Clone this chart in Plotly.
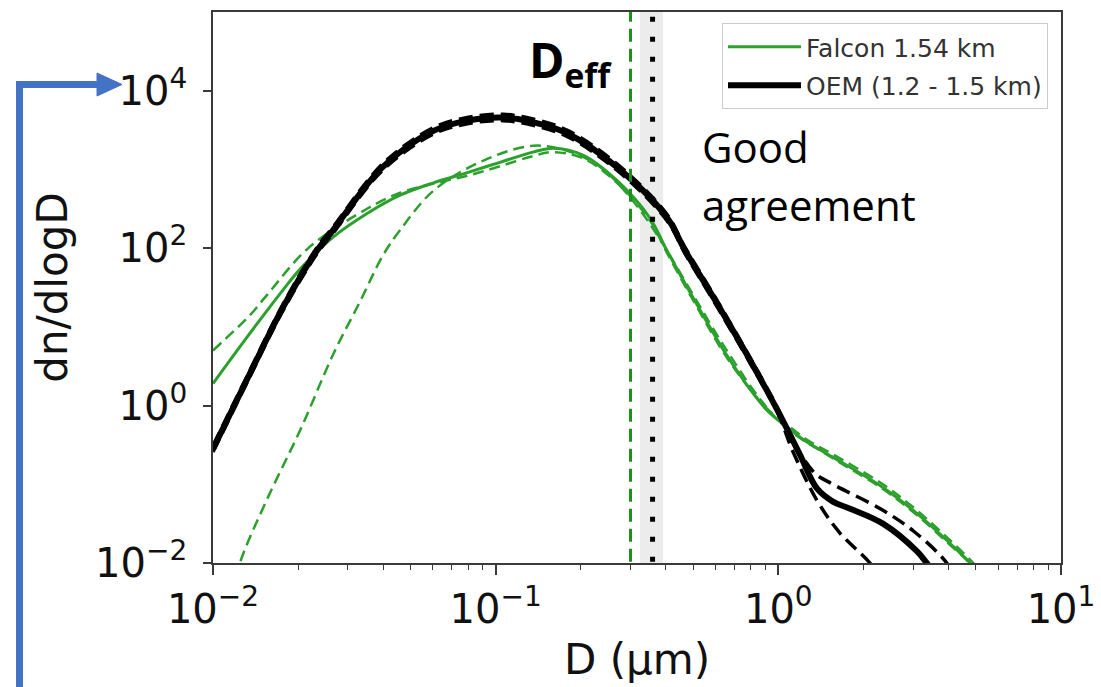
import plotly.graph_objects as go

# ---------------- data (log10 values) ----------------
# OEM retrieval (1.2 - 1.5 km), main curve
oem_logD = [-2.0, -1.869, -1.752, -1.632, -1.575, -1.40, -1.22, -1.10, -0.974, -0.868,
            -0.748, -0.571, -0.394, -0.33, -0.224, -0.10, 0.0, 0.076, 0.136, 0.193,
            0.254, 0.37, 0.49, 0.525, 0.60]
oem_logN = [-0.55, 0.41, 1.25, 1.97, 2.23, 3.03, 3.49, 3.62, 3.66, 3.60,
            3.46, 3.03, 2.39, 1.97, 1.34, 0.576, -0.08, -0.62, -1.05, -1.22,
            -1.31, -1.50, -1.85, -2.0, -2.35]
# OEM upper / lower bounds (dashed)
oem_up_logD = [-2.0, -1.869, -1.752, -1.632, -1.575, -1.40, -1.22, -1.10, -0.974, -0.868,
               -0.748, -0.571, -0.394, -0.33, -0.224, -0.10, 0.0, 0.05, 0.10, 0.136,
               0.193, 0.37, 0.48, 0.596, 0.65]
oem_up_logN = [-0.51, 0.45, 1.29, 2.01, 2.27, 3.07, 3.53, 3.66, 3.70, 3.64,
               3.50, 3.07, 2.43, 2.01, 1.38, 0.61, -0.05, -0.45, -0.73, -0.88,
               -1.0, -1.33, -1.60, -2.0, -2.35]
oem_lo_logD = [-2.0, -1.869, -1.752, -1.632, -1.575, -1.40, -1.22, -1.10, -0.974, -0.868,
               -0.748, -0.571, -0.394, -0.33, -0.224, -0.10, 0.0, 0.05, 0.136, 0.218,
               0.324, 0.40]
oem_lo_logN = [-0.59, 0.37, 1.21, 1.93, 2.19, 2.99, 3.45, 3.58, 3.62, 3.56,
               3.42, 2.99, 2.35, 1.93, 1.30, 0.54, -0.11, -0.57, -1.2, -1.62,
               -2.0, -2.4]

# Falcon 1.54 km, measured
fal_logD = [-2.0, -1.869, -1.75, -1.69, -1.575, -1.455, -1.34, -1.22, -1.10, -0.985,
            -0.868, -0.797, -0.69, -0.571, -0.454, -0.394, -0.30, -0.171, -0.04, 0.03,
            0.10, 0.193, 0.37, 0.49, 0.607, 0.678, 0.72]
fal_logN = [0.28, 0.92, 1.48, 1.74, 2.14, 2.44, 2.67, 2.83, 2.96, 3.09,
            3.22, 3.27, 3.18, 2.86, 2.38, 1.97, 1.36, 0.576, -0.06, -0.27,
            -0.46, -0.655, -1.04, -1.37, -1.75, -2.0, -2.2]
# Falcon dashed (narrow)
fal_a_logD = [-1.95, -1.905, -1.81, -1.69, -1.575, -1.48, -1.40, -1.34, -1.22, -1.045,
              -0.868, -0.75, -0.63, -0.514, -0.42, -0.33, -0.20, -0.06, 0.03, 0.193,
              0.37, 0.49, 0.607, 0.675, 0.72]
fal_a_logN = [-2.6, -2.0, -1.20, -0.30, 0.65, 1.32, 1.90, 2.22, 2.73, 3.11,
              3.30, 3.24, 3.03, 2.60, 2.12, 1.58, 0.80, 0.06, -0.29, -0.67,
              -1.06, -1.39, -1.77, -2.0, -2.3]
# Falcon dashed (wide)
fal_b_logD = [-2.0, -1.869, -1.81, -1.66, -1.455, -1.34, -1.22, -1.10, -0.985, -0.868,
              -0.797, -0.69, -0.571, -0.454, -0.394, -0.30, -0.171, -0.04, 0.03, 0.10,
              0.193, 0.37, 0.49, 0.607, 0.69, 0.74]
fal_b_logN = [0.70, 1.15, 1.40, 2.01, 2.50, 2.70, 2.82, 2.92, 3.04, 3.17,
              3.22, 3.14, 2.83, 2.35, 1.94, 1.33, 0.55, -0.04, -0.24, -0.43,
              -0.62, -1.00, -1.33, -1.71, -2.0, -2.2]

# effective diameters (µm)
deff_falcon = 0.30
deff_oem = 0.359
deff_oem_lo = 0.324
deff_oem_hi = 0.391

x_tickvals = [0.01, 0.1, 1, 10]
x_ticktext = ["10<sup>−2</sup>", "10<sup>−1</sup>", "10<sup>0</sup>", "10<sup>1</sup>"]
y_tickvals = [0.01, 1, 100, 10000]
y_ticktext = ["10<sup>−2</sup>", "10<sup>0</sup>", "10<sup>2</sup>", "10<sup>4</sup>"]
x_minor = [m * 10.0 ** e for e in (-2, -1, 0) for m in range(2, 10)]

GREEN = "#2ca02c"
VGREEN = "#1d8f1d"
BLACK = "#000000"


def pw(vals):
    return [10.0 ** v for v in vals]


fig = go.Figure()

# shaded OEM Deff range
fig.add_trace(go.Scatter(
    x=[deff_oem_lo, deff_oem_hi, deff_oem_hi, deff_oem_lo, deff_oem_lo],
    y=[1e-3, 1e-3, 1e6, 1e6, 1e-3], fill="toself",
    fillcolor="rgba(185,185,185,0.28)", line=dict(width=0), mode="lines",
    showlegend=False, hoverinfo="skip"))

# Falcon dashed curves
fig.add_trace(go.Scatter(x=pw(fal_a_logD), y=pw(fal_a_logN), mode="lines",
                         line=dict(color=GREEN, width=2.5, dash="11px,6px", shape="spline"),
                         showlegend=False))
fig.add_trace(go.Scatter(x=pw(fal_b_logD), y=pw(fal_b_logN), mode="lines",
                         line=dict(color=GREEN, width=2.5, dash="11px,6px", shape="spline"),
                         showlegend=False))
# Falcon solid
fig.add_trace(go.Scatter(x=pw(fal_logD), y=pw(fal_logN), mode="lines",
                         name="Falcon 1.54 km", legendgroup="g1",
                         line=dict(color=GREEN, width=3, shape="spline")))
# OEM bounds
fig.add_trace(go.Scatter(x=pw(oem_up_logD), y=pw(oem_up_logN), mode="lines",
                         line=dict(color=BLACK, width=3.5, dash="14px,7px", shape="spline"),
                         showlegend=False))
fig.add_trace(go.Scatter(x=pw(oem_lo_logD), y=pw(oem_lo_logN), mode="lines",
                         line=dict(color=BLACK, width=3.5, dash="14px,7px", shape="spline"),
                         showlegend=False))
# OEM main
fig.add_trace(go.Scatter(x=pw(oem_logD), y=pw(oem_logN), mode="lines",
                         name="OEM (1.2 - 1.5 km)", legendgroup="g2",
                         line=dict(color=BLACK, width=6, shape="spline")))

# Deff vertical lines
fig.add_trace(go.Scatter(x=[deff_falcon, deff_falcon], y=[1e-3, 1e6], mode="lines",
                         line=dict(color=VGREEN, width=3, dash="13px,7px"),
                         showlegend=False, hoverinfo="skip"))
fig.add_trace(go.Scatter(x=[deff_oem, deff_oem], y=[1e-3, 1e6], mode="lines",
                         line=dict(color=BLACK, width=5, dash="5px,15px"),
                         showlegend=False, hoverinfo="skip"))

# ---------------- layout ----------------
L, R, T, B = 213, 40, 12, 124
W, H = 1101, 687
PW, PH = W - L - R, H - T - B


def px(x):
    return (x - L) / PW


def py(y):
    return (H - B - y) / PH


AX = "#3a3a3a"
fig.update_layout(
    template="none",
    width=W, height=H,
    margin=dict(l=L, r=R, t=T, b=B, pad=0, autoexpand=False),
    paper_bgcolor="white", plot_bgcolor="white",
    font=dict(family="DejaVu Sans", color="#111"),
    xaxis=dict(
        type="log", range=[-2, 1], tickmode="array", automargin=False,
        tickvals=x_tickvals, ticktext=x_ticktext,
        ticks="outside", ticklen=10, tickwidth=1.5, tickcolor=AX,
        showline=True, linecolor=AX, linewidth=1.5, mirror=True,
        showgrid=False, zeroline=False,
        tickfont=dict(family="DejaVu Sans", size=40, color="#111"),
        minor=dict(tickmode="array", tickvals=x_minor, ticks="outside",
                   ticklen=5, tickwidth=1, tickcolor=AX, showgrid=False),
        title=dict(text="D (μm)", font=dict(family="DejaVu Sans", size=42, color="#111"),
                   standoff=14),
    ),
    yaxis=dict(
        type="log", range=[-2, 5], tickmode="array", automargin=False,
        tickvals=y_tickvals, ticktext=y_ticktext,
        ticks="outside", ticklen=8, tickwidth=1.5, tickcolor=AX,
        showline=True, linecolor=AX, linewidth=1.5, mirror=True,
        showgrid=False, zeroline=False, ticklabelstandoff=8,
        tickfont=dict(family="DejaVu Sans", size=40, color="#111"),
        title=dict(text="dn/dlogD", font=dict(family="DejaVu Sans", size=42, color="#111"),
                   standoff=14),
    ),
    legend=dict(
        x=px(1048), xanchor="right", y=py(23), yanchor="top",
        bgcolor="rgba(255,255,255,0.85)", bordercolor="#cccccc", borderwidth=1,
        font=dict(family="DejaVu Sans", size=25, color="#333"),
        tracegroupgap=3, itemwidth=73,
    ),
    showlegend=True,
)

# annotations
fig.add_annotation(xref="paper", yref="paper", x=px(527), y=py(62),
                   xanchor="left", yanchor="middle", showarrow=False,
                   text="<b>D<sub>eff</sub></b>",
                   font=dict(family="Open Sans", size=48, color="black"))
fig.add_annotation(xref="paper", yref="paper", x=px(700), y=py(146),
                   xanchor="left", yanchor="middle", showarrow=False,
                   text="Good", font=dict(family="Open Sans", size=42, color="black"))
fig.add_annotation(xref="paper", yref="paper", x=px(700), y=py(204),
                   xanchor="left", yanchor="middle", showarrow=False,
                   text="agreement", font=dict(family="Open Sans", size=42, color="black"))

# blue bracket arrow on the left
BLUE = "#4472C4"
fig.add_shape(type="line", xref="paper", yref="paper",
              x0=px(19.5), y0=py(700), x1=px(19.5), y1=py(81),
              line=dict(color=BLUE, width=7), layer="above")
fig.add_shape(type="line", xref="paper", yref="paper",
              x0=px(16), y0=py(84.5), x1=px(100), y1=py(84.5),
              line=dict(color=BLUE, width=7), layer="above")
fig.add_shape(type="path", xref="paper", yref="paper",
              path=f"M {px(97)} {py(73)} L {px(122)} {py(84.5)} L {px(97)} {py(96)} Z",
              fillcolor=BLUE, line=dict(color=BLUE, width=1), layer="above")

# remove the browser's default 8px body margin so the figure fills the window
fig.write_html("out.html", config={"displayModeBar": False},
               post_script="document.body.style.margin='0';document.body.style.overflow='hidden';")
